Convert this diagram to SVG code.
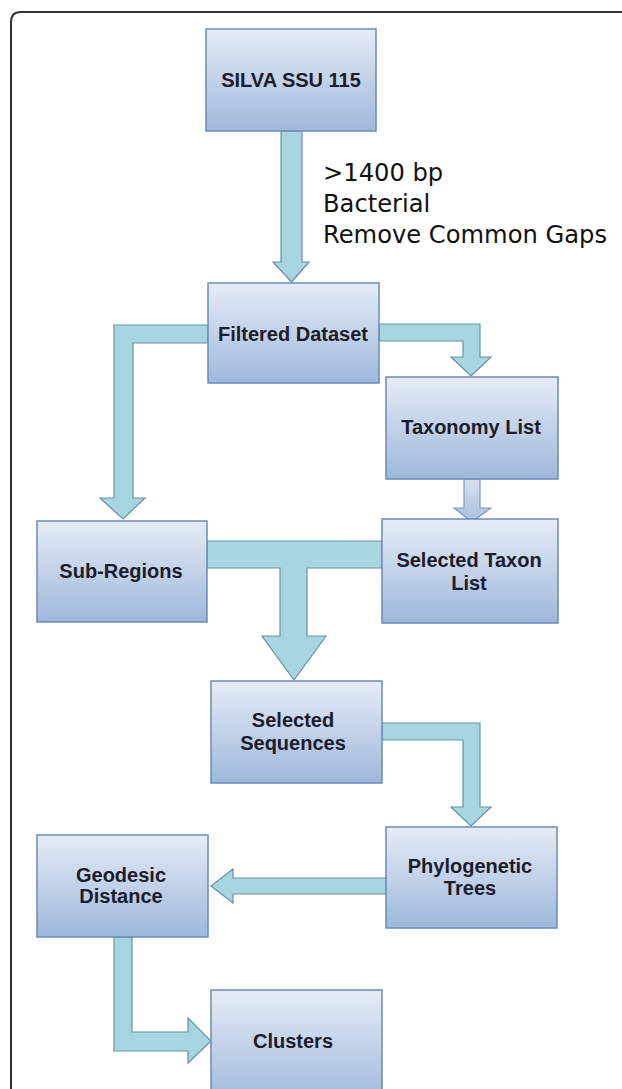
<svg xmlns="http://www.w3.org/2000/svg" width="622" height="1089" viewBox="0 0 622 1089">
  <defs>
    <linearGradient id="boxGrad" x1="0" y1="0" x2="0" y2="1">
      <stop offset="0" stop-color="#e6ecf6"/>
      <stop offset="1" stop-color="#9db8dc"/>
    </linearGradient>
    <linearGradient id="arrGrad" x1="0" y1="0" x2="0" y2="1">
      <stop offset="0" stop-color="#d6e0ee"/>
      <stop offset="1" stop-color="#a9bfdf"/>
    </linearGradient>
    <style>
      .box { fill: url(#boxGrad); stroke: #6d8bb8; stroke-width: 1.5; }
      .lbl { font-family: "Liberation Sans", Arial, sans-serif; font-weight: bold; font-size: 20px; fill: #1c1c2a; text-anchor: middle; }
      .conn { fill: #a7d6e1; stroke: #6890a6; stroke-width: 1.2; stroke-linejoin: miter; }
      .conn2 { fill: url(#arrGrad); stroke: #7f98bd; stroke-width: 1.2; }
      .note { font-family: "DejaVu Sans", Verdana, sans-serif; font-size: 24.2px; fill: #111; }
    </style>
  </defs>
  <rect width="622" height="1089" fill="#ffffff"/>
  <path d="M11,1095 V22 Q11,12 21,12 H630" fill="none" stroke="#333" stroke-width="2"/>

  <g id="connectors">
    <polygon class="conn" points="281,131 302,131 302,262 309,262 291.5,282 273,262 281,262"/>
    <polygon class="conn" points="208,325 114,325 114,498 100,498 123,519 145,498 133,498 133,343 208,343"/>
    <polygon class="conn" points="379,324 480,324 480,357 491,357 471,376 451,357 463,357 463,341 379,341"/>
    <polygon class="conn2" points="464,479 480,479 480,508 491,508 472,522 454,508 464,508"/>
    <polygon class="conn" points="207,541 382,541 382,568 307,568 307,636 326,636 294,680 262,636 280,636 280,568 207,568"/>
    <polygon class="conn" points="382,723 480,723 480,807 491,807 471,826 451,807 463,807 463,740 382,740"/>
    <polygon class="conn" points="386,878 233,878 233,869 211,886 233,903 233,894 386,894"/>
    <polygon class="conn" points="114,937 132,937 132,1032 188,1032 188,1018 211,1041 188,1063 188,1051 114,1051"/>
  </g>

  <g id="note">
    <text class="note" x="323" y="181">&gt;1400 bp</text>
    <text class="note" x="323" y="212">Bacterial</text>
    <text class="note" x="323" y="243">Remove Common Gaps</text>
  </g>

  <g id="silva">
    <rect class="box" x="206" y="29" width="170" height="102"/>
    <text class="lbl" x="291" y="87">SILVA SSU 115</text>
  </g>
  <g id="filtered">
    <rect class="box" x="208" y="283" width="171" height="100"/>
    <text class="lbl" x="293" y="341">Filtered Dataset</text>
  </g>
  <g id="taxonomy">
    <rect class="box" x="386" y="377" width="172" height="102"/>
    <text class="lbl" x="471" y="434">Taxonomy List</text>
  </g>
  <g id="subregions">
    <rect class="box" x="37" y="521" width="170" height="101"/>
    <text class="lbl" x="121" y="578">Sub-Regions</text>
  </g>
  <g id="selectedtaxon">
    <rect class="box" x="382" y="519" width="176" height="104"/>
    <text class="lbl" x="469" y="567">Selected Taxon</text>
    <text class="lbl" x="469" y="590">List</text>
  </g>
  <g id="selectedseq">
    <rect class="box" x="211" y="681" width="171" height="102"/>
    <text class="lbl" x="293" y="727">Selected</text>
    <text class="lbl" x="293" y="750">Sequences</text>
  </g>
  <g id="phylo">
    <rect class="box" x="386" y="827" width="171" height="101"/>
    <text class="lbl" x="470" y="873">Phylogenetic</text>
    <text class="lbl" x="470" y="895">Trees</text>
  </g>
  <g id="geodesic">
    <rect class="box" x="37" y="835" width="171" height="102"/>
    <text class="lbl" x="121" y="882">Geodesic</text>
    <text class="lbl" x="121" y="903">Distance</text>
  </g>
  <g id="clusters">
    <rect class="box" x="211" y="990" width="171" height="115"/>
    <text class="lbl" x="293" y="1048">Clusters</text>
  </g>
</svg>
